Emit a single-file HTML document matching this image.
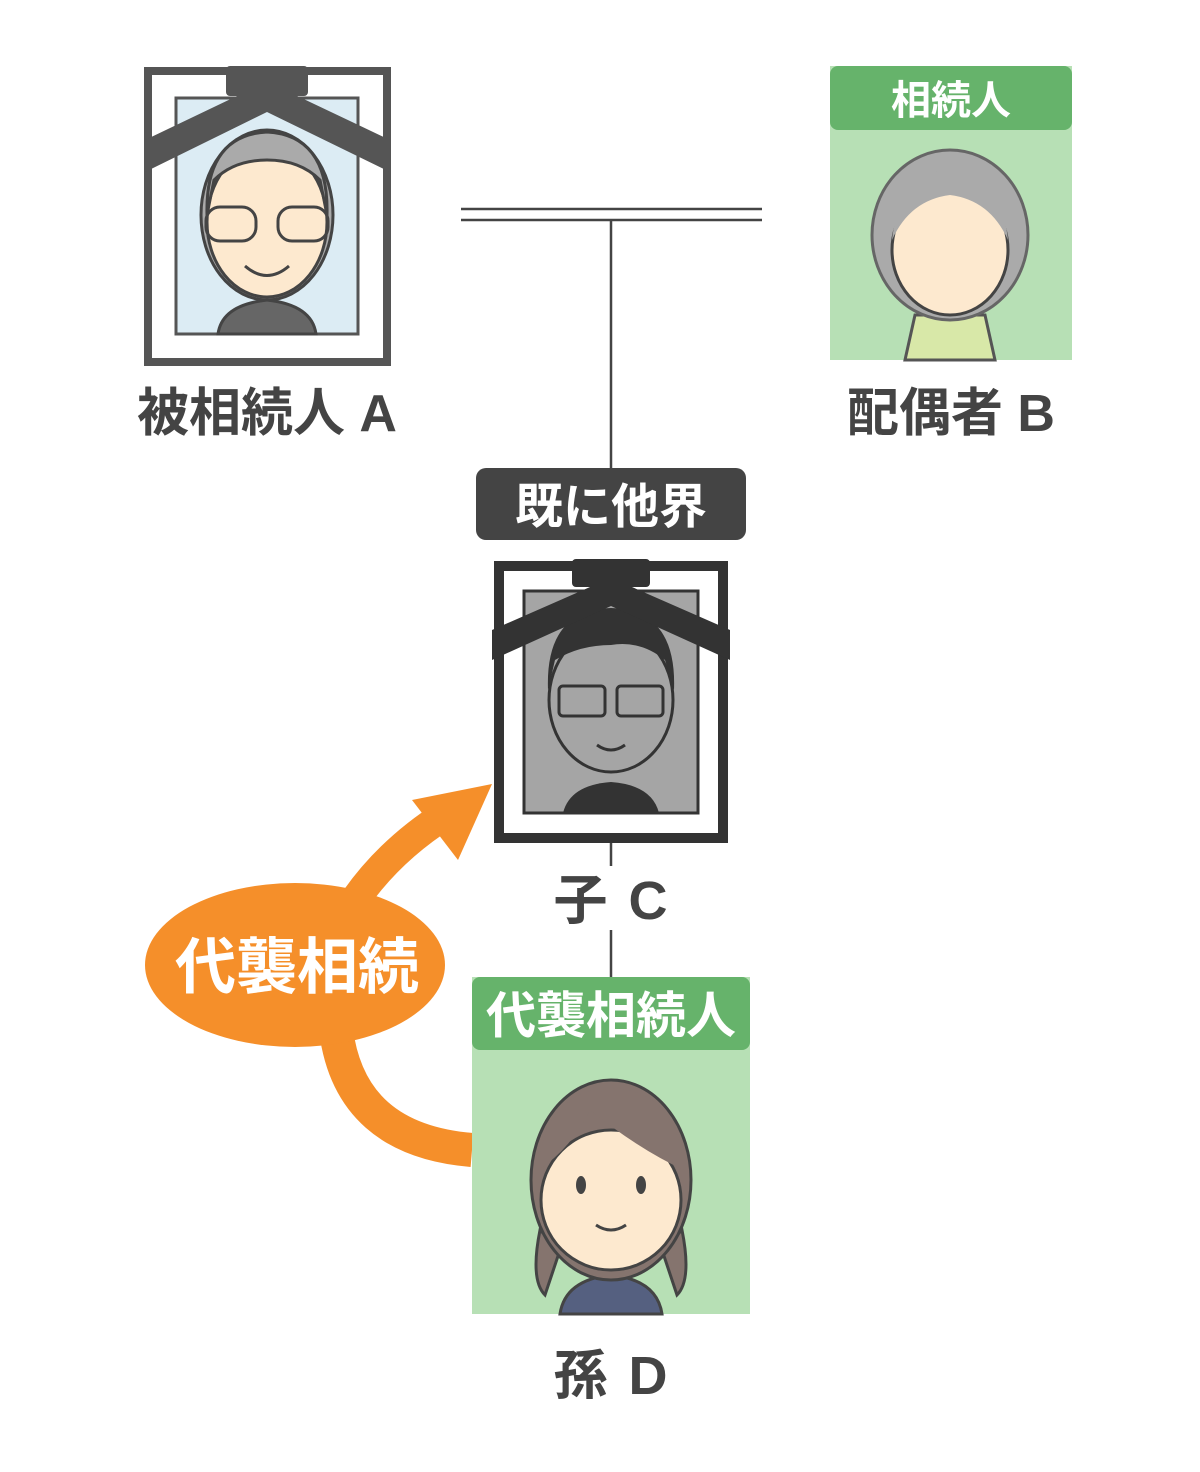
<!DOCTYPE html>
<html><head><meta charset="utf-8"><style>
body{margin:0;background:#fff}
svg{display:block}
text{font-family:"Liberation Sans","Noto Sans CJK JP",sans-serif;font-weight:bold}
</style></head><body>
<svg width="1200" height="1472" viewBox="0 0 1200 1472" xmlns="http://www.w3.org/2000/svg">
<g stroke="#444" stroke-width="2.5" fill="none">
<line x1="461" y1="209" x2="762" y2="209"/><line x1="461" y1="220" x2="762" y2="220"/>
<line x1="611" y1="220" x2="611" y2="470"/>
<line x1="611" y1="843" x2="611" y2="866"/><line x1="611" y1="930" x2="611" y2="978"/>
</g>
<!-- Frame A -->
<rect x="148" y="71" width="239" height="291" fill="#fff" stroke="#555" stroke-width="8"/>
<rect x="176" y="98" width="182" height="236" fill="#dcecf4" stroke="#555" stroke-width="3"/>
<g>
<path d="M218 334 Q222 305 267 300 Q312 305 316 334Z" fill="#666" stroke="#444" stroke-width="3"/>
<ellipse cx="267" cy="215" rx="66" ry="85" fill="#aaa" stroke="#444" stroke-width="3"/>
<ellipse cx="267" cy="222" rx="60" ry="75" fill="#fde9cf" stroke="#444" stroke-width="3"/>
<path d="M207 215 Q205 135 267 132 Q329 135 327 215 L320 180 Q300 160 267 160 Q234 160 214 180Z" fill="#aaa" stroke="#444" stroke-width="3"/>
<rect x="206" y="207" width="50" height="34" rx="14" fill="none" stroke="#444" stroke-width="3"/>
<rect x="278" y="207" width="50" height="34" rx="14" fill="none" stroke="#444" stroke-width="3"/>
<path d="M245 266 Q267 285 289 266" fill="none" stroke="#444" stroke-width="3"/>
</g>
<path d="M145 140 L262 84 L272 84 L390 140 L390 172 L267 112 L145 172Z" fill="#555"/>
<rect x="226" y="66" width="82" height="30" rx="4" fill="#555"/>
<!-- Spouse B -->
<rect x="830" y="66" width="242" height="294" fill="#b7e0b5"/>
<rect x="830" y="66" width="242" height="64" rx="8" fill="#66b36b"/>
<text x="951" y="114" font-size="40" fill="#fff" text-anchor="middle">相続人</text>
<path d="M905 360 L915 315 L985 315 L995 360Z" fill="#d8e8a8" stroke="#555" stroke-width="3"/>
<ellipse cx="950" cy="235" rx="78" ry="85" fill="#aaa" stroke="#666" stroke-width="3"/>
<ellipse cx="950" cy="250" rx="58" ry="65" fill="#fde9cf" stroke="#444" stroke-width="3"/>
<path d="M892 240 Q900 170 950 170 Q1000 170 1008 240 Q990 200 950 195 Q910 200 892 240Z" fill="#aaa"/>
<!-- labels -->
<text x="267" y="431" font-size="52" fill="#444" text-anchor="middle">被相続人 A</text>
<text x="951" y="431" font-size="52" fill="#444" text-anchor="middle">配偶者 B</text>
<rect x="476" y="468" width="270" height="72" rx="10" fill="#444"/>
<text x="611" y="523" font-size="48" fill="#fff" text-anchor="middle">既に他界</text>
<!-- Frame C -->
<rect x="499" y="566" width="224" height="272" fill="#fff" stroke="#333" stroke-width="10"/>
<rect x="524" y="591" width="174" height="222" fill="#a5a5a5" stroke="#333" stroke-width="3"/>
<path d="M563 813 Q570 785 611 782 Q652 785 659 813Z" fill="#333"/>
<ellipse cx="611" cy="700" rx="62" ry="72" fill="#a5a5a5" stroke="#333" stroke-width="3"/>
<path d="M548 690 Q545 610 611 608 Q677 610 674 690 L665 660 Q640 640 611 645 Q580 645 555 660Z" fill="#333"/>
<rect x="559" y="686" width="46" height="30" rx="4" fill="none" stroke="#333" stroke-width="3"/>
<rect x="617" y="686" width="46" height="30" rx="4" fill="none" stroke="#333" stroke-width="3"/>
<path d="M597 745 Q611 755 625 745" fill="none" stroke="#333" stroke-width="3"/>
<path d="M492 630 L606 580 L616 580 L730 630 L730 660 L611 606 L492 660Z" fill="#333"/>
<rect x="572" y="559" width="78" height="28" rx="4" fill="#333"/>
<text x="612" y="919" font-size="54" fill="#444" text-anchor="middle" letter-spacing="3">子 C</text>
<!-- orange arrow -->
<path d="M355 900 Q390 850 445 815" fill="none" stroke="#f58f2a" stroke-width="30"/>
<path d="M412 800 L492 784 L458 860Z" fill="#f58f2a"/>
<path d="M336 1030 Q350 1140 472 1150" fill="none" stroke="#f58f2a" stroke-width="34"/>
<ellipse cx="295" cy="965" rx="150" ry="82" fill="#f58f2a"/>
<text x="297" y="988" font-size="61" fill="#fff" text-anchor="middle">代襲相続</text>
<!-- D -->
<rect x="472" y="977" width="278" height="337" fill="#b7e0b5"/>
<rect x="472" y="977" width="278" height="73" rx="8" fill="#66b36b"/>
<text x="611" y="1033" font-size="50" fill="#fff" text-anchor="middle">代襲相続人</text>
<path d="M560 1314 Q565 1280 611 1275 Q657 1280 662 1314Z" fill="#556080" stroke="#444" stroke-width="3"/>
<path d="M540 1230 Q530 1280 545 1295 L560 1250Z M682 1230 Q692 1280 677 1295 L662 1250Z" fill="#85746e" stroke="#444" stroke-width="3"/>
<ellipse cx="611" cy="1180" rx="80" ry="100" fill="#85746e" stroke="#444" stroke-width="3"/>
<ellipse cx="611" cy="1200" rx="70" ry="70" fill="#fde9cf" stroke="#444" stroke-width="3"/>
<path d="M538 1170 Q545 1090 611 1088 Q677 1090 684 1170 Q640 1150 590 1110 Q570 1150 538 1170Z" fill="#85746e"/>
<ellipse cx="581" cy="1185" rx="5" ry="9" fill="#444"/><ellipse cx="641" cy="1185" rx="5" ry="9" fill="#444"/>
<path d="M596 1225 Q611 1235 626 1225" fill="none" stroke="#444" stroke-width="3"/>
<text x="612" y="1394" font-size="54" fill="#444" text-anchor="middle" letter-spacing="3">孫 D</text>
</svg>
</body></html>
